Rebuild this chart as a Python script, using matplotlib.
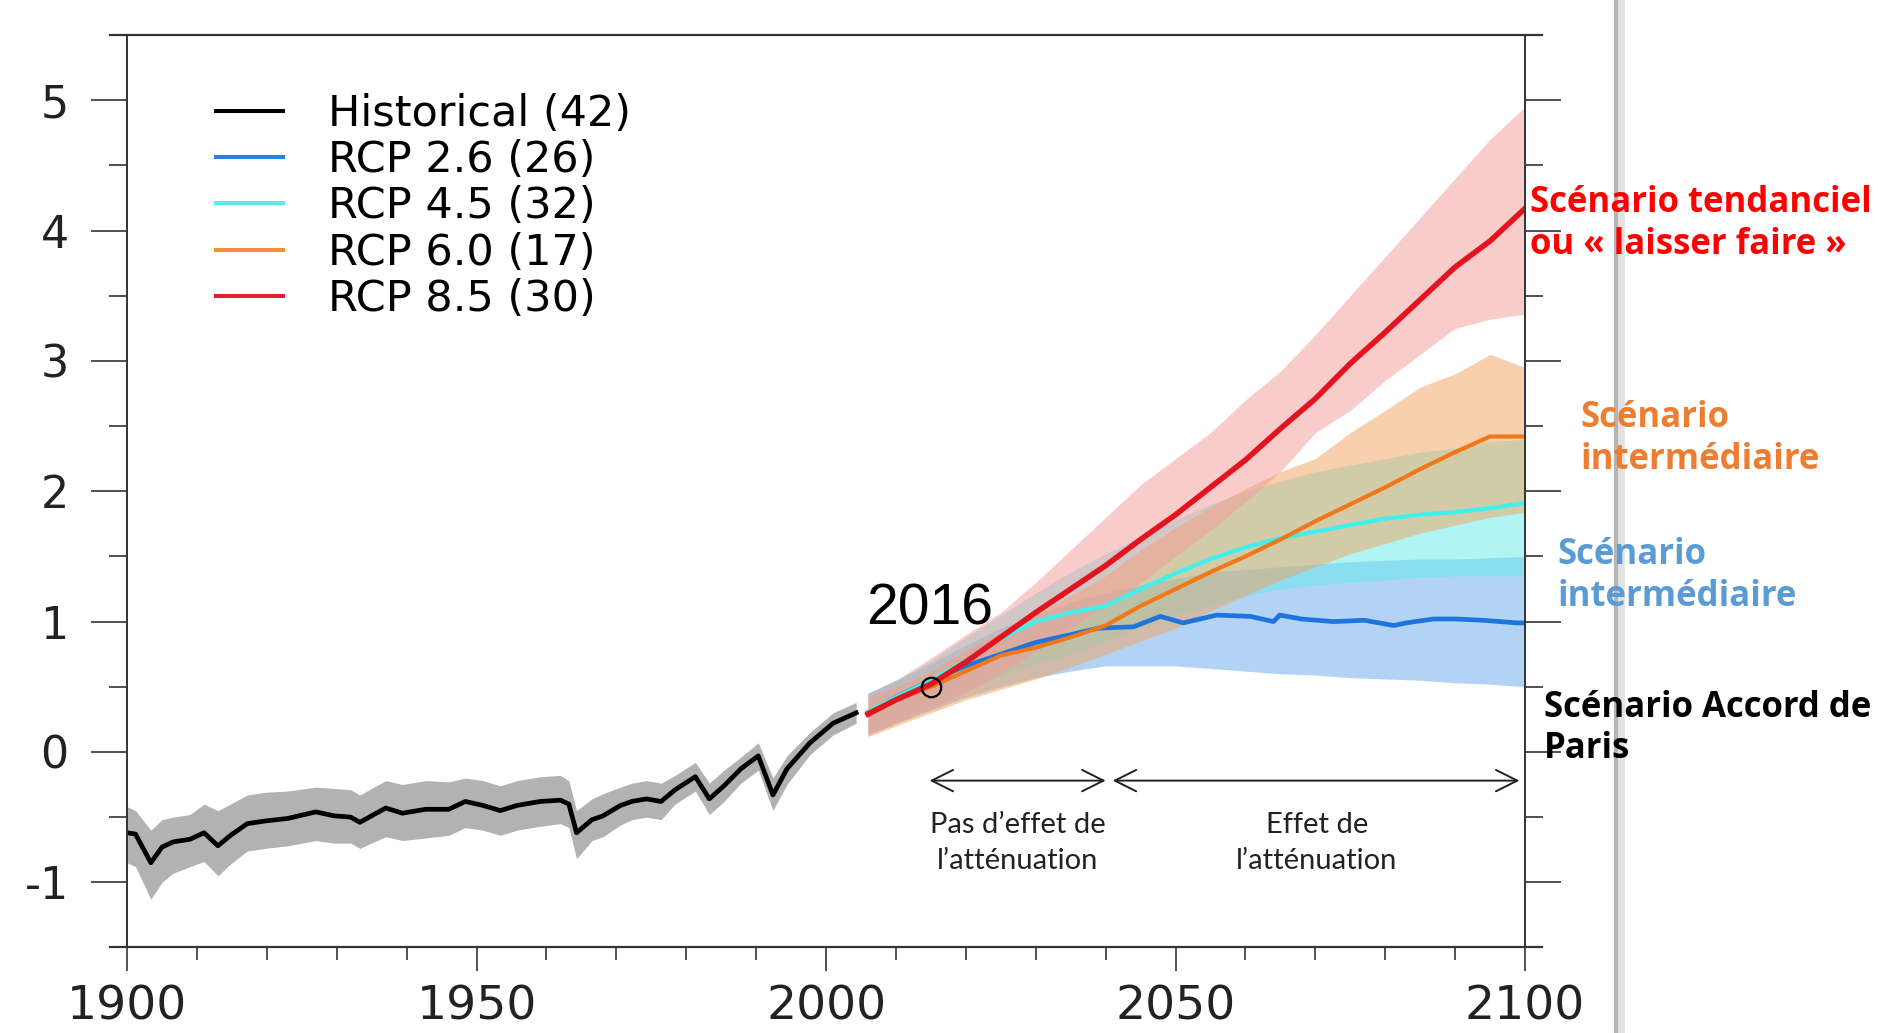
import numpy as np
import matplotlib
matplotlib.use("Agg")
import matplotlib.pyplot as plt
from matplotlib.lines import Line2D
from matplotlib.ticker import MultipleLocator

plt.rcParams["axes.unicode_minus"] = False

# --- Historical runs: multi-model mean and spread ---
hist_years = [1900, 1901.2, 1903.4, 1905, 1906.6, 1909, 1911, 1913, 1914.8, 1917.2,
              1919.7, 1923, 1927, 1929.6, 1932, 1933.3, 1937, 1939.4, 1942.7, 1946,
              1948.4, 1950.9, 1953.4, 1955.8, 1959.1, 1962, 1963.2, 1964.3, 1966.5, 1968.1,
              1970.6, 1972.2, 1974.3, 1976.4, 1978.4, 1981.3, 1983.3, 1985.4, 1987.8, 1990.3,
              1992.4, 1994.4, 1997.7, 2001, 2004.3]
hist_mean = [-0.62, -0.63, -0.85, -0.73, -0.69, -0.67, -0.62, -0.72, -0.64, -0.55,
             -0.53, -0.51, -0.46, -0.49, -0.50, -0.54, -0.43, -0.47, -0.44, -0.44,
             -0.38, -0.41, -0.45, -0.41, -0.38, -0.37, -0.40, -0.62, -0.52, -0.49,
             -0.41, -0.38, -0.36, -0.38, -0.29, -0.19, -0.36, -0.26, -0.13, -0.03,
             -0.33, -0.13, 0.07, 0.22, 0.30]
hist_hi = [-0.42, -0.45, -0.60, -0.52, -0.50, -0.48, -0.40, -0.45, -0.40, -0.33,
           -0.31, -0.30, -0.27, -0.28, -0.29, -0.33, -0.22, -0.25, -0.22, -0.23,
           -0.20, -0.22, -0.26, -0.22, -0.19, -0.18, -0.22, -0.45, -0.36, -0.32,
           -0.27, -0.24, -0.22, -0.24, -0.18, -0.08, -0.24, -0.14, -0.04, 0.07,
           -0.20, -0.03, 0.15, 0.30, 0.38]
hist_lo = [-0.85, -0.88, -1.13, -1.00, -0.93, -0.88, -0.84, -0.95, -0.86, -0.76,
           -0.74, -0.72, -0.68, -0.70, -0.70, -0.74, -0.65, -0.68, -0.66, -0.64,
           -0.58, -0.60, -0.64, -0.60, -0.57, -0.55, -0.58, -0.82, -0.68, -0.65,
           -0.56, -0.52, -0.50, -0.52, -0.40, -0.30, -0.48, -0.38, -0.24, -0.14,
           -0.45, -0.25, -0.02, 0.13, 0.22]

# --- RCP projections ---
rcp_years = [2006, 2010, 2015, 2020, 2025, 2030, 2035, 2040, 2045, 2050,
             2055, 2060, 2065, 2070, 2075, 2080, 2085, 2090, 2095, 2100]

rcp26_hi = [0.45, 0.55, 0.68, 0.82, 0.95, 1.05, 1.15, 1.22, 1.28, 1.33,
            1.38, 1.40, 1.42, 1.44, 1.46, 1.47, 1.48, 1.48, 1.49, 1.50]
rcp26_lo = [0.14, 0.22, 0.32, 0.42, 0.50, 0.57, 0.62, 0.66, 0.66, 0.66,
            0.64, 0.62, 0.60, 0.59, 0.57, 0.56, 0.55, 0.53, 0.52, 0.50]
# the RCP 2.6 mean wiggles visibly, so it is read more densely
rcp26_years = [2006, 2010, 2015, 2020, 2025, 2030, 2035, 2039, 2044, 2047.8,
               2051.1, 2055.9, 2060.7, 2064, 2064.9, 2068, 2072.6, 2077, 2081.2, 2083,
               2086.9, 2090, 2094, 2098.8, 2100]
rcp26_mean = [0.30, 0.42, 0.55, 0.66, 0.75, 0.84, 0.90, 0.95, 0.96, 1.04,
              0.99, 1.05, 1.04, 1.00, 1.05, 1.02, 1.00, 1.01, 0.97, 0.99,
              1.02, 1.02, 1.01, 0.99, 0.99]

rcp45_mean = [0.31, 0.42, 0.55, 0.70, 0.87, 1.00, 1.07, 1.12, 1.25, 1.37,
              1.48, 1.57, 1.64, 1.69, 1.74, 1.79, 1.82, 1.84, 1.87, 1.91]
rcp45_hi = [0.45, 0.55, 0.70, 0.88, 1.05, 1.22, 1.38, 1.52, 1.65, 1.78,
            1.90, 2.00, 2.08, 2.15, 2.20, 2.25, 2.30, 2.33, 2.38, 2.40]
rcp45_lo = [0.14, 0.22, 0.35, 0.47, 0.58, 0.68, 0.75, 0.85, 0.95, 1.05,
            1.12, 1.20, 1.25, 1.28, 1.30, 1.32, 1.34, 1.35, 1.35, 1.35]

rcp60_mean = [0.30, 0.40, 0.50, 0.62, 0.74, 0.80, 0.88, 0.97, 1.12, 1.25,
              1.38, 1.50, 1.63, 1.77, 1.90, 2.03, 2.17, 2.30, 2.42, 2.42]
rcp60_hi = [0.42, 0.50, 0.62, 0.78, 0.92, 1.05, 1.20, 1.35, 1.55, 1.72,
            1.88, 2.02, 2.15, 2.25, 2.45, 2.62, 2.80, 2.90, 3.05, 2.95]
rcp60_lo = [0.12, 0.20, 0.30, 0.40, 0.48, 0.56, 0.65, 0.75, 0.85, 0.95,
            1.08, 1.20, 1.32, 1.42, 1.52, 1.60, 1.68, 1.74, 1.80, 1.84]

rcp85_mean = [0.29, 0.40, 0.52, 0.69, 0.88, 1.07, 1.25, 1.43, 1.63, 1.82,
              2.03, 2.24, 2.48, 2.71, 2.98, 3.22, 3.47, 3.72, 3.92, 4.17]
rcp85_hi = [0.45, 0.55, 0.72, 0.90, 1.07, 1.30, 1.55, 1.80, 2.05, 2.25,
            2.45, 2.70, 2.92, 3.20, 3.50, 3.80, 4.10, 4.40, 4.70, 4.95]
rcp85_lo = [0.12, 0.22, 0.33, 0.46, 0.60, 0.77, 0.95, 1.12, 1.30, 1.50,
            1.70, 1.92, 2.15, 2.45, 2.62, 2.85, 3.05, 3.25, 3.32, 3.36]

legend_labels = ["Historical (42)", "RCP 2.6 (26)", "RCP 4.5 (32)", "RCP 6.0 (17)", "RCP 8.5 (30)"]
legend_colors = ["#000000", "#2a7fe0", "#55eeee", "#f0903a", "#e0202a"]

marker_year, marker_value = 2015, 0.5

fig = plt.figure(figsize=(18.8, 10.33), dpi=100)
ax = fig.add_axes([0.0676, 0.0828, 0.7436, 0.8833])

# spread bands
ax.fill_between(hist_years, hist_lo, hist_hi, color="#b2b2b2", lw=0)
ax.fill_between(rcp_years, rcp26_lo, rcp26_hi, color="#68a8ec", alpha=0.5, lw=0)
ax.fill_between(rcp_years, rcp45_lo, rcp45_hi, color="#62eaea", alpha=0.5, lw=0)
ax.fill_between(rcp_years, rcp60_lo, rcp60_hi, color="#f2a35e", alpha=0.5, lw=0)
ax.fill_between(rcp_years, rcp85_lo, rcp85_hi, color="#f59a9a", alpha=0.5, lw=0)

# means
ax.plot(hist_years, hist_mean, color="black", lw=3.4, solid_joinstyle="round")
ax.plot(rcp26_years, rcp26_mean, color="#1f74dc", lw=3.4)
ax.plot(rcp_years, rcp45_mean, color="#3ff0ec", lw=3.0)
ax.plot(rcp_years, rcp60_mean, color="#f07818", lw=3.0)
ax.plot(rcp_years, rcp85_mean, color="#e3141e", lw=4.0)

ax.plot([marker_year], [marker_value], marker="o", ms=14, mfc="none", mec="black", mew=1.6, zorder=6)
ax.text(2005.7, 1.09, "2016", fontsize=41, family="Liberation Sans", ha="left", va="center")

# mitigation periods
arrow_kw = dict(arrowstyle="<->,head_length=0.7,head_width=0.35", lw=1.4, color="#222222",
                mutation_scale=22, shrinkA=0, shrinkB=0)
ax.annotate("", xy=(2040.0, -0.22), xytext=(2014.8, -0.22), arrowprops=arrow_kw)
ax.annotate("", xy=(2099.2, -0.22), xytext=(2041.0, -0.22), arrowprops=arrow_kw)
ax.text(2027.4, -0.70, "Pas d\u2019effet de\nl\u2019atténuation", family="Lato", fontsize=21,
        ha="center", va="center", linespacing=1.45, color="#222222")
ax.text(2070.2, -0.70, "Effet de\nl\u2019atténuation", family="Lato", fontsize=21,
        ha="center", va="center", linespacing=1.45, color="#222222")

# scenario labels to the right of the frame
lab_kw = dict(family="Open Sans", fontweight="bold", fontsize=25, ha="left", va="center",
              linespacing=1.2, clip_on=False)
ax.text(2100.7, 4.05, "Scénario tendanciel\nou « laisser faire »", color="#ff0000", **lab_kw)
ax.text(2107.9, 2.40, "Scénario\nintermédiaire", color="#ed7d31", **lab_kw)
ax.text(2104.6, 1.35, "Scénario\nintermédiaire", color="#5b9bd5", **lab_kw)
ax.text(2102.7, 0.18, "Scénario Accord de\nParis", color="#000000", **lab_kw)

handles = [Line2D([], [], color=c, lw=2.9) for c in legend_colors]
ax.legend(handles, legend_labels, loc="upper left", bbox_to_anchor=(0.0637, 0.9366),
          frameon=False, prop={"family": "DejaVu Sans", "size": 31}, handlelength=1.55,
          handletextpad=1.05, labelspacing=0.1, borderpad=0, borderaxespad=0)

# axes frame and ticks
ax.set_xlim(1900, 2100)
ax.set_ylim(-1.5, 5.5)
ax.xaxis.set_major_locator(MultipleLocator(50))
ax.xaxis.set_minor_locator(MultipleLocator(10))
ax.yaxis.set_major_locator(MultipleLocator(1))
ax.yaxis.set_minor_locator(MultipleLocator(0.5))
ax.tick_params(axis="y", which="both", direction="out", left=True, right=True,
               labelleft=True, labelright=False, color="#333333", width=1.2)
ax.tick_params(axis="y", which="major", length=26, pad=16, labelsize=32)
ax.tick_params(axis="y", which="minor", length=13)
ax.tick_params(axis="x", which="both", direction="out", top=False, color="#333333", width=1.2)
ax.tick_params(axis="x", which="major", length=17, pad=10, labelsize=34)
ax.tick_params(axis="x", which="minor", length=9)
for lab in ax.get_xticklabels() + ax.get_yticklabels():
    lab.set_family("DejaVu Sans")
    lab.set_color("#222222")

for side in ("top", "bottom"):
    ax.spines[side].set_visible(False)
for side in ("left", "right"):
    ax.spines[side].set_color("#333333")
    ax.spines[side].set_linewidth(1.4)
for yf in (0.0, 1.0):
    ax.plot([-0.012, 1.012], [yf, yf], transform=ax.transAxes, color="#333333", lw=1.6, clip_on=False)

# slide edge shading on the right, kept behind the labels
fig.add_artist(Line2D([0.8615, 0.8615], [0, 1], transform=fig.transFigure, color="#e2e2e2", lw=7, zorder=-2))
fig.add_artist(Line2D([0.8596, 0.8596], [0, 1], transform=fig.transFigure, color="#b4b4b4", lw=3, zorder=-1))

fig.savefig("out.png", dpi=100)
